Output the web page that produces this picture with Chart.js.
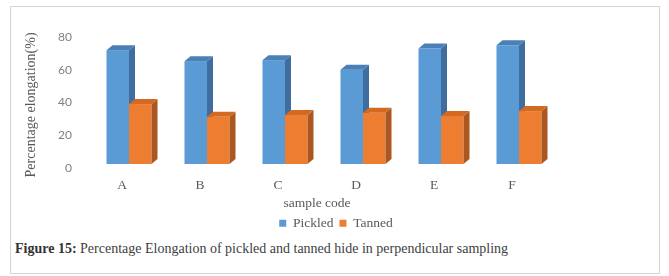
<!DOCTYPE html>
<html><head><meta charset="utf-8">
<script src="https://cdn.jsdelivr.net/npm/chart.js@4/dist/chart.umd.min.js"></script>
<style>
html,body{margin:0;padding:0;background:#fff;width:669px;height:276px;overflow:hidden}
#frame{position:absolute;left:10px;top:6px;width:650px;height:268px;border:1px solid #d4d4d4;box-sizing:border-box}
#wrap{position:absolute;left:0;top:0;width:669px;height:240px}
#caption{position:absolute;left:15px;top:241px;font-family:"Liberation Serif",serif;font-size:14px;line-height:15px;color:#404040;white-space:nowrap}
#caption b{color:#333}
</style></head><body>
<div id="frame"></div>
<div id="wrap"><canvas id="c" width="669" height="240"></canvas></div>
<div id="caption"><b>Figure 15:</b> Percentage Elongation of pickled and tanned hide in perpendicular sampling</div>
<script>
const categories = ['A', 'B', 'C', 'D', 'E', 'F'];
const pickled = [69.5, 62.8, 63.4, 57.6, 70.5, 72.5];
const tanned = [36.6, 28.8, 29.9, 31.3, 29.3, 32.3];
const seriesNames = ['Pickled', 'Tanned'];
const yTickStep = 20;
const yMax = 80;

// 3D projection of the bars (front plane set back from the axis plane)
const shift = {x: 7, y: -4};
const depth = {x: 6, y: -5};
const faces = [
  {front: '#5B9BD5', side: '#3F6D9D', top: '#4A7FB8'},
  {front: '#ED7D31', side: '#AB5820', top: '#D46A22'}
];

const bar3d = {
  id: 'bar3d',
  beforeDatasetDraw() { return false; },
  afterDatasetsDraw(chart) {
    const ctx = chart.ctx;
    const metas = chart.data.datasets.map((d, i) => chart.getDatasetMeta(i));
    ctx.save();
    for (let i = 0; i < categories.length; i++) {
      metas.forEach((m, di) => {
        const el = m.data[i];
        const p = el.getProps(['x', 'y', 'base', 'width'], true);
        const x0 = p.x - p.width / 2 + shift.x, x1 = p.x + p.width / 2 + shift.x;
        const yt = p.y + shift.y, yb = p.base + shift.y;
        const f = faces[di];
        ctx.fillStyle = f.front;
        ctx.fillRect(x0, yt, x1 - x0, yb - yt);
        ctx.fillStyle = f.side;
        ctx.beginPath();
        ctx.moveTo(x1, yt); ctx.lineTo(x1 + depth.x, yt + depth.y);
        ctx.lineTo(x1 + depth.x, yb + depth.y); ctx.lineTo(x1, yb);
        ctx.closePath(); ctx.fill();
        ctx.fillStyle = f.top;
        ctx.beginPath();
        ctx.moveTo(x0, yt); ctx.lineTo(x0 + depth.x, yt + depth.y);
        ctx.lineTo(x1 + depth.x, yt + depth.y); ctx.lineTo(x1, yt);
        ctx.closePath(); ctx.fill();
      });
    }
    ctx.restore();
  }
};

const serif = 'Liberation Serif';
new Chart(document.getElementById('c'), {
  type: 'bar',
  data: {
    labels: categories,
    datasets: [
      {label: seriesNames[0], data: pickled, backgroundColor: faces[0].front, borderWidth: 0,
       categoryPercentage: 0.577, barPercentage: 1},
      {label: seriesNames[1], data: tanned, backgroundColor: faces[1].front, borderWidth: 0,
       categoryPercentage: 0.577, barPercentage: 1}
    ]
  },
  options: {
    responsive: false,
    animation: false,
    devicePixelRatio: 1,
    layout: {padding: {left: 22.6, right: 19.6, top: 37, bottom: 0}},
    plugins: {
      tooltip: {enabled: false},
      legend: {
        position: 'bottom',
        labels: {boxWidth: 7, boxHeight: 7, padding: 6, color: '#595959',
                 font: {family: serif, size: 13.5}}
      }
    },
    scales: {
      x: {
        grid: {display: false, drawTicks: false},
        border: {display: false},
        ticks: {color: '#595959', padding: 4, font: {family: serif, size: 13.5}},
        title: {display: true, text: 'sample code', color: '#595959',
                font: {family: serif, size: 13.5}, padding: {top: 0, bottom: -1}},
        afterFit(s) { s.height = 37.6; }
      },
      y: {
        min: -3, max: yMax,
        grid: {display: false, drawTicks: false},
        border: {display: false},
        ticks: {stepSize: yTickStep, includeBounds: false, padding: 11, color: '#808080',
                font: {family: 'Lato', size: 12}},
        title: {display: true, text: 'Percentage elongation(%)', color: '#595959',
                font: {family: serif, size: 14}, padding: 0},
        afterFit(s) { s.width = 60.4; }
      },
      y2: {
        type: 'linear', position: 'right',
        grid: {display: false, drawTicks: false},
        border: {display: false},
        ticks: {display: false},
        afterFit(s) { s.width = 98.4; }
      }
    }
  },
  plugins: [bar3d]
});
</script>
</body></html>
